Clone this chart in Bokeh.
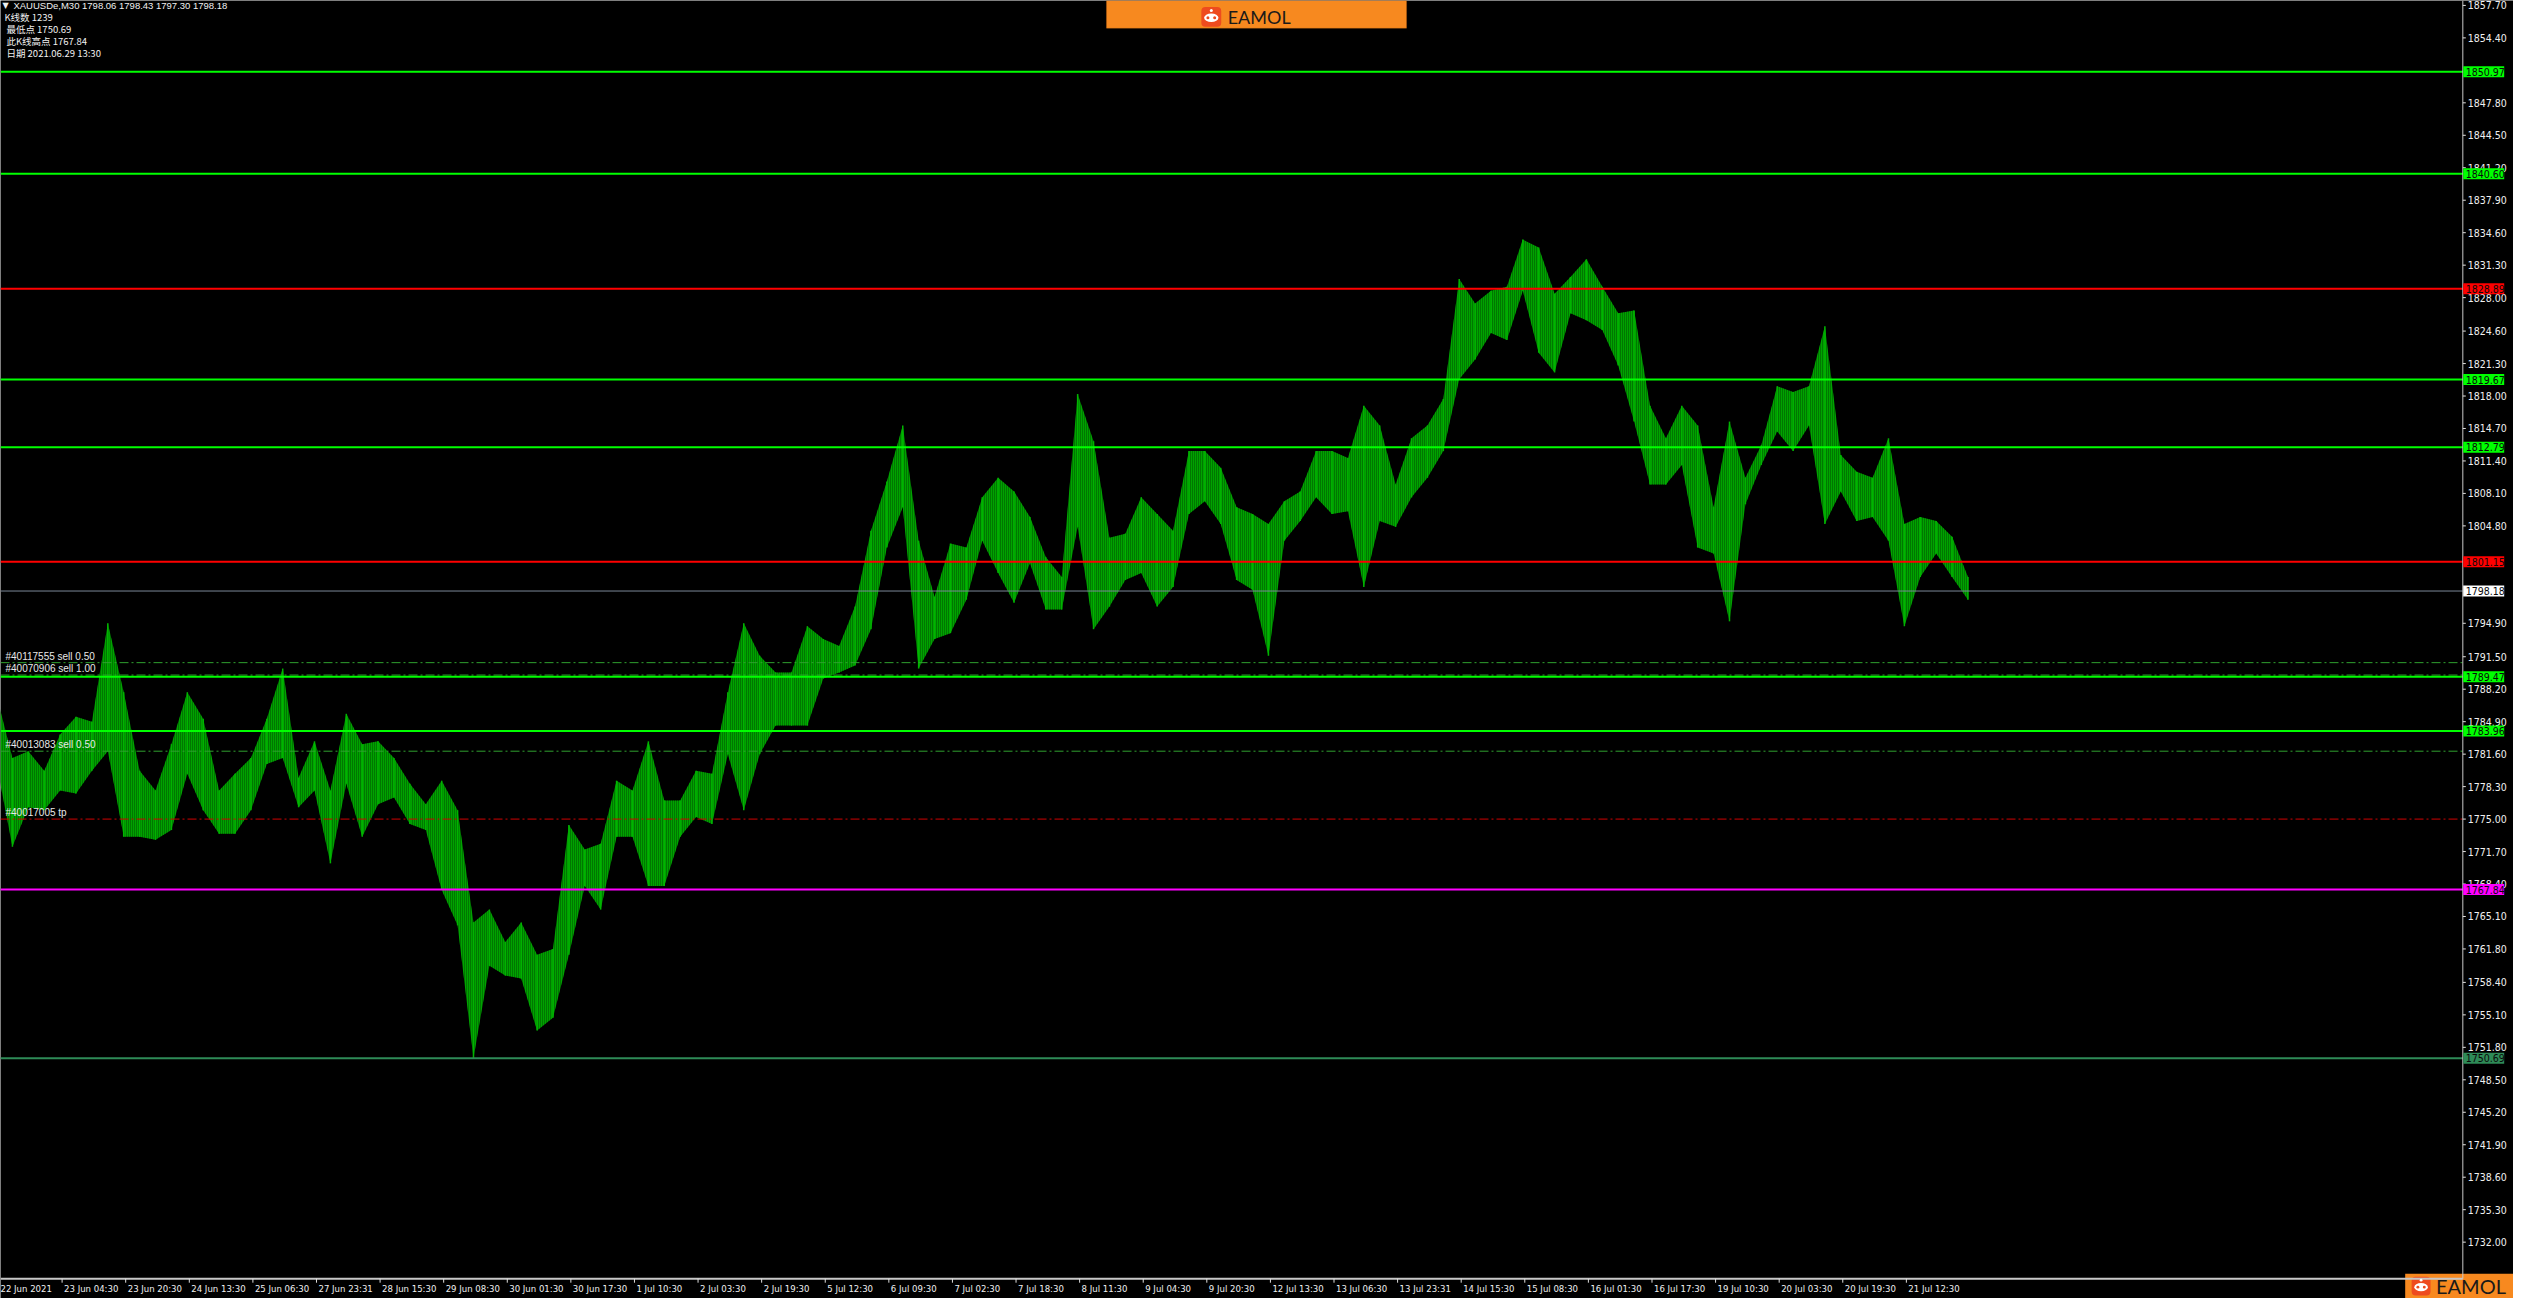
from bokeh.plotting import figure
from bokeh.models import Range1d, Label, BoxAnnotation, ColumnDataSource
from bokeh.core.properties import value
from bokeh.embed import file_html
from bokeh.resources import INLINE

# ---------------- data ----------------
symbol_line = "XAUUSDe,M30  1798.06 1798.43 1797.30 1798.18"
info_lines = ["K线数    1239", "最低点 1750.69", "此K线高点 1767.84", "日期 2021.06.29 13:30"]

# high / low of every group of 8 M30 bars, left to right
bar_high = [1787.6, 1781.2, 1781.9, 1779.9, 1783.6, 1785.4, 1784.9, 1794.9, 1787.9, 1779.9,
            1777.9, 1782.6, 1787.9, 1785.2, 1777.9, 1779.6, 1781.2, 1785.2, 1790.3, 1779.2,
            1782.9, 1777.9, 1785.7, 1782.6, 1782.9, 1781.2, 1778.6, 1776.5, 1778.9, 1775.9,
            1764.5, 1765.8, 1762.5, 1764.5, 1761.2, 1761.8, 1774.4, 1771.9, 1772.5, 1778.9,
            1777.9, 1782.9, 1776.9, 1776.9, 1779.9, 1779.6, 1787.9, 1794.9, 1791.6, 1789.9,
            1789.9, 1794.6, 1793.3, 1792.6, 1796.6, 1804.3, 1809.3, 1815.0, 1803.3, 1797.6,
            1803.0, 1802.6, 1807.7, 1809.7, 1808.3, 1805.7, 1801.6, 1799.6, 1818.2, 1813.4,
            1803.6, 1804.0, 1807.7, 1806.0, 1804.3, 1812.4, 1812.4, 1810.7, 1806.7, 1806.0,
            1805.0, 1807.3, 1808.3, 1812.4, 1812.4, 1811.7, 1817.0, 1815.0, 1809.0, 1813.7,
            1815.0, 1817.7, 1829.9, 1827.4, 1828.7, 1829.1, 1833.9, 1833.1, 1828.4, 1830.1,
            1831.9, 1829.1, 1826.4, 1826.7, 1817.0, 1813.7, 1817.0, 1815.0, 1806.7, 1815.4,
            1809.7, 1813.0, 1819.0, 1818.4, 1819.0, 1825.1, 1812.0, 1810.3, 1809.7, 1813.7,
            1805.0, 1805.7, 1805.3, 1803.7, 1799.6]
bar_low = [1780.6, 1772.2, 1776.2, 1775.9, 1777.9, 1777.6, 1779.9, 1781.9, 1773.2, 1773.2,
           1772.9, 1773.9, 1779.6, 1775.9, 1773.5, 1773.5, 1775.9, 1780.6, 1781.2, 1776.2,
           1777.9, 1770.5, 1778.6, 1773.2, 1776.5, 1777.2, 1774.5, 1773.9, 1767.8, 1764.2,
           1750.7, 1760.1, 1759.1, 1758.8, 1753.5, 1754.8, 1761.2, 1768.2, 1765.8, 1773.2,
           1773.2, 1768.2, 1768.2, 1773.2, 1775.2, 1774.5, 1781.6, 1775.9, 1781.6, 1784.5,
           1784.5, 1784.5, 1789.3, 1789.9, 1790.6, 1794.3, 1802.6, 1806.7, 1790.3, 1793.3,
           1793.9, 1797.3, 1803.3, 1800.0, 1797.0, 1801.0, 1796.3, 1796.3, 1804.7, 1794.3,
           1796.6, 1799.3, 1800.0, 1796.6, 1798.6, 1806.0, 1807.3, 1805.0, 1799.3, 1798.3,
           1791.6, 1803.3, 1805.3, 1807.7, 1806.0, 1806.3, 1798.6, 1805.3, 1804.7, 1807.7,
           1809.7, 1812.4, 1819.7, 1821.7, 1824.4, 1823.7, 1828.7, 1822.4, 1820.4, 1826.4,
           1825.7, 1824.7, 1821.1, 1815.4, 1809.0, 1809.0, 1811.0, 1802.6, 1802.0, 1795.1,
           1807.0, 1811.0, 1814.4, 1812.4, 1815.0, 1805.0, 1808.3, 1805.3, 1805.7, 1803.3,
           1794.6, 1799.6, 1802.0, 1799.6, 1797.3]

# tick labels visible on the price scale (those hidden under the price boxes are left out)
price_ticks = [1857.70, 1854.40, 1847.80, 1844.50, 1841.20, 1837.90, 1834.60, 1831.30,
               1828.00, 1824.60, 1821.30, 1818.00, 1814.70, 1811.40, 1808.10, 1804.80,
               1794.90, 1791.50, 1788.20, 1784.90, 1781.60, 1778.30, 1775.00, 1771.70,
               1768.40, 1765.10, 1761.80, 1758.40, 1755.10, 1751.80, 1748.50, 1745.20, 1741.90,
               1738.60, 1735.30, 1732.00]

time_labels = ["22 Jun 2021", "23 Jun 04:30", "23 Jun 20:30", "24 Jun 13:30", "25 Jun 06:30",
               "27 Jun 23:31", "28 Jun 15:30", "29 Jun 08:30", "30 Jun 01:30", "30 Jun 17:30",
               "1 Jul 10:30", "2 Jul 03:30", "2 Jul 19:30", "5 Jul 12:30", "6 Jul 09:30",
               "7 Jul 02:30", "7 Jul 18:30", "8 Jul 11:30", "9 Jul 04:30", "9 Jul 20:30",
               "12 Jul 13:30", "13 Jul 06:30", "13 Jul 23:31", "14 Jul 15:30", "15 Jul 08:30",
               "16 Jul 01:30", "16 Jul 17:30", "19 Jul 10:30", "20 Jul 03:30", "20 Jul 19:30",
               "21 Jul 12:30"]

level_prices = [1850.97, 1840.60, 1828.89, 1819.67, 1812.79, 1801.15, 1789.47, 1783.96, 1767.84, 1750.69]
level_colors = ["#00FF00", "#00FF00", "#FF0000", "#00FF00", "#00FF00", "#FF0000", "#00FF00", "#00FF00",
                "#FF00FF", "#2E8B57"]
current_price = 1798.18

order_texts = ["#40117555 sell 0.50", "#40070906 sell 1.00", "#40013083 sell 0.50", "#40017005 tp"]
order_prices = [1790.90, 1789.64, 1781.90, 1775.00]
order_colors = ["#2FA02F", "#2FA02F", "#2FA02F", "#D00000"]

# ---------------- geometry ----------------
N_BARS = 1239            # bars across the price window (right axis sits here)
GROUP = 8                # bars per group above
TICK_EVERY = 32          # bars between time ticks
FIRST_TICK = -1
REF_W, REF_H = 2529, 1314      # whole picture, in reference pixels
AXIS_Y_PX = 1294               # bottom axis line, reference pixels
Y_TOP = 1858.20
PX_PER_UNIT = 9.96
PX_PER_BAR = 2.0


def rx(px):
    return px / PX_PER_BAR


def ry(py):
    return Y_TOP - py / PX_PER_UNIT


W, H = 2513, 1298
NARROW = "Liberation Sans Narrow, Arial Narrow, DejaVu Sans Condensed, sans-serif"
AXIS_COL = "#C8C8C8"
TXT_COL = "#F0F0F0"

p = figure(width=W, height=H, x_range=Range1d(0, rx(REF_W)), y_range=Range1d(ry(REF_H), Y_TOP),
           output_backend="svg", toolbar_location=None, x_axis_location=None, y_axis_location=None,
           background_fill_color="black", border_fill_color="black", min_border=0)
p.outline_line_color = None
p.grid.visible = False

# ---------------- price bars (high-low envelope, vertical bar texture) ----------------
centers = [GROUP * i - 2 for i in range(len(bar_high))]
src = ColumnDataSource(dict(x=centers, top=bar_high, bottom=bar_low))
p.varea(x="x", y1="bottom", y2="top", source=src, fill_color="#007800",
        hatch_pattern="vertical_line", hatch_color="#00CC00", hatch_scale=2, hatch_weight=1)
p.segment(x0="x", x1="x", y0="bottom", y1="top", source=src, line_color="#00B400", line_width=1.5)

# ---------------- horizontal lines ----------------
n_o = len(order_prices)
p.segment(x0=[0] * n_o, x1=[N_BARS] * n_o, y0=order_prices, y1=order_prices,
          line_color=order_colors, line_width=1, line_dash="9 3 2 3")
n_l = len(level_prices)
p.segment(x0=[0] * n_l, x1=[N_BARS] * n_l, y0=level_prices, y1=level_prices,
          line_color=level_colors, line_width=2)
p.segment(x0=[0], x1=[N_BARS], y0=[current_price], y1=[current_price],
          line_color="#7A8898", line_width=1)

p.text(x=[rx(5)] * n_o, y=order_prices, text=order_texts, y_offset=-1, text_baseline="bottom",
       text_font=value("Liberation Sans"), text_font_size=value("10px"), text_color="#E8E8E8")

# ---------------- right price axis ----------------
y_axis_bottom = ry(AXIS_Y_PX)
p.segment(x0=[N_BARS], x1=[N_BARS], y0=[y_axis_bottom], y1=[Y_TOP], line_color=AXIS_COL, line_width=1)
n_t = len(price_ticks)
p.segment(x0=[N_BARS] * n_t, x1=[N_BARS + rx(3)] * n_t, y0=price_ticks, y1=price_ticks,
          line_color="#E0E0E0", line_width=1)
p.text(x=[rx(2483)] * n_t, y=price_ticks, text=["%.2f" % t for t in price_ticks],
       text_baseline="middle", text_align="left", text_font=value(NARROW),
       text_font_size=value("10.5px"), text_color=TXT_COL)

# price boxes on the axis
box_prices = level_prices + [current_price]
box_colors = level_colors + ["#FFFFFF"]
n_b = len(box_prices)
p.rect(x=[rx(2499)] * n_b, y=box_prices, width=41, height=11, width_units="screen",
       height_units="screen", fill_color=box_colors, line_color=None)
p.text(x=[rx(2481)] * n_b, y=box_prices, text=["%.2f" % b for b in box_prices],
       text_baseline="middle", text_align="left", text_font=value(NARROW),
       text_font_size=value("10.5px"), text_color="#0A0A0A")

# ---------------- bottom time axis ----------------
time_ticks = [FIRST_TICK + TICK_EVERY * k for k in range(len(time_labels))]
p.segment(x0=[0], x1=[N_BARS], y0=[y_axis_bottom], y1=[y_axis_bottom], line_color=AXIS_COL, line_width=2)
n_x = len(time_ticks)
p.segment(x0=time_ticks, x1=time_ticks, y0=[y_axis_bottom] * n_x, y1=[ry(AXIS_Y_PX + 4)] * n_x,
          line_color="#E0E0E0", line_width=1)
p.text(x=[t + 1 for t in time_ticks], y=[ry(AXIS_Y_PX + 4)] * n_x, text=time_labels,
       text_baseline="top", text_align="left", text_font=value(NARROW),
       text_font_size=value("9.5px"), text_color=TXT_COL)

# ---------------- info text top-left ----------------
p.add_layout(Label(x=rx(2), y=ry(5), text="▼", text_baseline="middle", text_font="DejaVu Sans",
                   text_font_size="8px", text_color=TXT_COL))
p.add_layout(Label(x=rx(13), y=ry(5), text=symbol_line, text_baseline="middle",
                   text_font="Liberation Sans", text_font_size="9.5px", text_color=TXT_COL))
for k, t in enumerate(info_lines):
    p.add_layout(Label(x=rx(4 if k == 0 else 6), y=ry(17 + 12 * k), text=t, text_baseline="middle",
                       text_font="Noto Sans CJK SC", text_font_size="9.5px", text_color=TXT_COL))


# ---------------- logos ----------------
def robot(cx_px, cy_px, size_px):
    h = size_px / 2.0
    p.add_layout(BoxAnnotation(left=rx(cx_px - h), right=rx(cx_px + h), top=ry(cy_px - h),
                               bottom=ry(cy_px + h), fill_color="#EE4B1E", fill_alpha=1,
                               line_color=None, border_radius=4, level="underlay"))
    p.ellipse(x=[rx(cx_px)], y=[ry(cy_px + 1)], width=rx(size_px * 0.72),
              height=size_px * 0.44 / PX_PER_UNIT, fill_color="white", line_color=None)
    p.scatter(x=[rx(cx_px - size_px * 0.17), rx(cx_px + size_px * 0.17)],
              y=[ry(cy_px + 1)] * 2, size=size_px * 0.15, fill_color="#EE4B1E", line_color=None)
    p.scatter(x=[rx(cx_px)], y=[ry(cy_px - size_px * 0.32)], size=size_px * 0.15,
              fill_color="white", line_color=None)


# banner top centre
p.add_layout(BoxAnnotation(left=rx(1113), right=rx(1415), top=ry(0), bottom=ry(28),
                           fill_color="#F7891F", fill_alpha=1, line_color="#D06A10",
                           line_width=1, level="underlay"))
robot(1218.5, 16.5, 20)
p.add_layout(Label(x=rx(1235), y=ry(16.5), text="EAMOL", text_baseline="middle",
                   text_font="Lato", text_font_size="18px", text_color="#1A1A1A"))

# logo bottom-right
p.add_layout(BoxAnnotation(left=rx(2420), right=rx(2529), top=ry(1289), bottom=ry(1314),
                           fill_color="#F7891F", fill_alpha=1, line_color=None, level="underlay"))
robot(2436, 1301.5, 19)
p.add_layout(Label(x=rx(2451), y=ry(1301.5), text="EAMOL", text_baseline="middle",
                   text_font="Lato", text_font_size="20px", text_color="#1A1A1A"))

open("out.html", "w").write(file_html(p, INLINE))
